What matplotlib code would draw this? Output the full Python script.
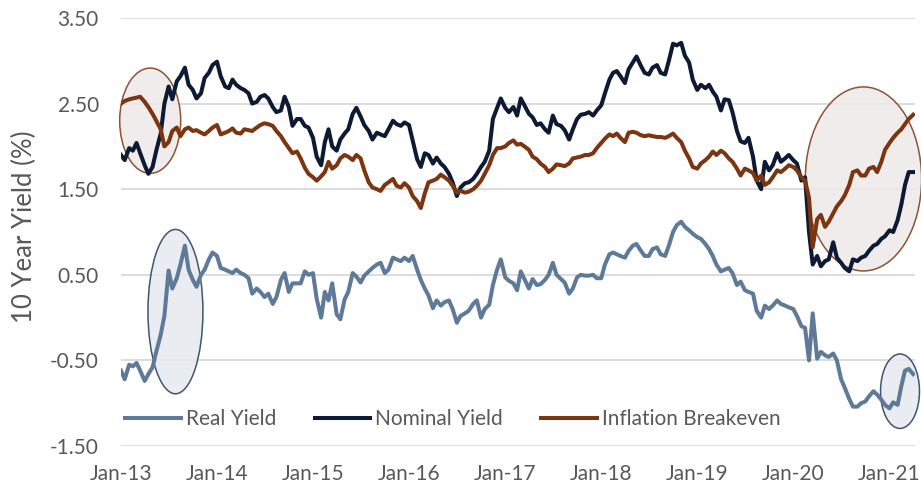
import numpy as np
import pandas as pd
import matplotlib
matplotlib.use("Agg")
import matplotlib.pyplot as plt
import matplotlib.dates as mdates
from matplotlib.patches import Ellipse

plt.rcParams['font.family'] = ['Lato', 'DejaVu Sans']

#  Semi-monthly readings, Jan 2013 .. Apr 2021 (values in %)

dates = pd.date_range('2013-01-01', '2021-04-01', freq='SMS')

nominal_yield = [
    1.90, 1.84, 1.98, 1.95, 2.04, 1.92, 1.78, 1.68, 1.76, 1.95, 2.15, 2.50, 2.70, 2.55, 2.76, 2.82, 2.92, 2.72, 2.66, 2.56, 2.62, 2.80, 2.86, 2.95,
    2.99, 2.82, 2.70, 2.68, 2.78, 2.72, 2.68, 2.66, 2.62, 2.50, 2.52, 2.58, 2.60, 2.56, 2.46, 2.40, 2.42, 2.58, 2.46, 2.24, 2.32, 2.32, 2.24, 2.22,
    2.10, 1.88, 1.78, 2.05, 2.20, 2.00, 1.95, 2.08, 2.15, 2.20, 2.38, 2.45, 2.35, 2.25, 2.18, 2.08, 2.16, 2.14, 2.12, 2.20, 2.30, 2.26, 2.24, 2.28,
    2.25, 2.07, 1.85, 1.76, 1.92, 1.90, 1.80, 1.87, 1.80, 1.76, 1.68, 1.58, 1.42, 1.52, 1.57, 1.58, 1.62, 1.68, 1.76, 1.82, 1.95, 2.32, 2.45, 2.56,
    2.45, 2.40, 2.46, 2.36, 2.56, 2.48, 2.38, 2.34, 2.25, 2.27, 2.20, 2.16, 2.36, 2.26, 2.24, 2.19, 2.08, 2.20, 2.32, 2.37, 2.38, 2.40, 2.36, 2.42,
    2.48, 2.62, 2.78, 2.86, 2.88, 2.82, 2.74, 2.90, 2.98, 3.05, 2.94, 2.86, 2.84, 2.92, 2.95, 2.86, 2.84, 3.00, 3.20, 3.18, 3.21, 3.06, 2.98, 2.78,
    2.66, 2.72, 2.68, 2.72, 2.64, 2.58, 2.42, 2.55, 2.54, 2.40, 2.18, 2.06, 2.04, 2.10, 1.88, 1.60, 1.50, 1.82, 1.72, 1.78, 1.92, 1.82, 1.86, 1.90,
    1.84, 1.80, 1.60, 1.64, 1.00, 0.62, 0.72, 0.60, 0.66, 0.68, 0.88, 0.70, 0.64, 0.58, 0.54, 0.68, 0.66, 0.70, 0.72, 0.78, 0.84, 0.86, 0.92, 0.95,
    1.02, 1.00, 1.14, 1.32, 1.55, 1.70, 1.70,
]

breakeven = [
    2.50, 2.53, 2.55, 2.56, 2.57, 2.58, 2.52, 2.46, 2.38, 2.30, 2.20, 2.00, 2.05, 2.18, 2.22, 2.12, 2.20, 2.22, 2.18, 2.19, 2.16, 2.14, 2.18, 2.22,
    2.25, 2.14, 2.16, 2.18, 2.21, 2.16, 2.15, 2.20, 2.19, 2.18, 2.22, 2.25, 2.27, 2.26, 2.24, 2.18, 2.12, 2.05, 1.98, 1.92, 1.94, 1.86, 1.75, 1.68,
    1.64, 1.60, 1.65, 1.70, 1.82, 1.74, 1.78, 1.86, 1.90, 1.88, 1.84, 1.90, 1.86, 1.72, 1.58, 1.52, 1.50, 1.48, 1.55, 1.58, 1.62, 1.54, 1.52, 1.57,
    1.52, 1.42, 1.36, 1.28, 1.45, 1.58, 1.60, 1.62, 1.67, 1.64, 1.60, 1.54, 1.46, 1.48, 1.46, 1.47, 1.50, 1.54, 1.60, 1.68, 1.78, 1.90, 1.98, 1.98,
    2.00, 2.04, 2.07, 2.02, 2.03, 2.00, 1.96, 1.88, 1.85, 1.80, 1.76, 1.70, 1.74, 1.79, 1.78, 1.77, 1.80, 1.86, 1.87, 1.88, 1.90, 1.90, 1.92, 1.98,
    2.04, 2.09, 2.14, 2.12, 2.15, 2.10, 2.05, 2.16, 2.17, 2.16, 2.13, 2.12, 2.13, 2.12, 2.11, 2.11, 2.10, 2.12, 2.15, 2.10, 2.05, 1.95, 1.86, 1.76,
    1.74, 1.80, 1.84, 1.88, 1.94, 1.90, 1.95, 1.92, 1.86, 1.82, 1.74, 1.66, 1.74, 1.72, 1.69, 1.60, 1.66, 1.55, 1.58, 1.64, 1.72, 1.70, 1.74, 1.78,
    1.76, 1.72, 1.64, 1.60, 1.40, 0.82, 1.15, 1.20, 1.06, 1.12, 1.22, 1.30, 1.36, 1.43, 1.55, 1.70, 1.72, 1.66, 1.66, 1.74, 1.76, 1.70, 1.82, 1.96,
    2.04, 2.10, 2.16, 2.20, 2.26, 2.32, 2.37,
]

real_yield = [
    -0.62, -0.72, -0.55, -0.57, -0.53, -0.62, -0.74, -0.66, -0.58, -0.40, -0.20, 0.02, 0.55, 0.34, 0.46, 0.62, 0.84, 0.56, 0.44, 0.36, 0.50, 0.56, 0.68, 0.76,
    0.72, 0.58, 0.56, 0.54, 0.52, 0.56, 0.52, 0.50, 0.46, 0.28, 0.34, 0.30, 0.24, 0.28, 0.16, 0.24, 0.44, 0.52, 0.30, 0.40, 0.40, 0.40, 0.54, 0.50,
    0.52, 0.22, 0.00, 0.30, 0.20, 0.40, 0.04, -0.02, 0.21, 0.30, 0.52, 0.48, 0.41, 0.49, 0.54, 0.58, 0.62, 0.64, 0.52, 0.56, 0.70, 0.68, 0.66, 0.70,
    0.66, 0.72, 0.56, 0.44, 0.34, 0.26, 0.11, 0.20, 0.14, 0.18, 0.20, 0.10, -0.06, 0.02, 0.05, 0.08, 0.16, 0.20, 0.00, 0.10, 0.15, 0.38, 0.56, 0.68,
    0.47, 0.43, 0.40, 0.32, 0.54, 0.45, 0.34, 0.45, 0.38, 0.39, 0.44, 0.50, 0.64, 0.50, 0.45, 0.41, 0.28, 0.34, 0.47, 0.50, 0.49, 0.49, 0.50, 0.46,
    0.46, 0.62, 0.74, 0.76, 0.74, 0.72, 0.70, 0.78, 0.84, 0.86, 0.78, 0.72, 0.72, 0.80, 0.82, 0.74, 0.72, 0.84, 1.00, 1.08, 1.12, 1.06, 1.02, 0.98,
    0.94, 0.92, 0.86, 0.80, 0.72, 0.62, 0.54, 0.56, 0.58, 0.52, 0.38, 0.42, 0.32, 0.30, 0.28, 0.08, 0.00, 0.14, 0.10, 0.14, 0.20, 0.16, 0.14, 0.12,
    0.10, 0.02, -0.10, -0.12, -0.50, 0.05, -0.48, -0.40, -0.44, -0.46, -0.42, -0.50, -0.72, -0.82, -0.95, -1.04, -1.04, -1.00, -0.98, -0.92, -0.86, -0.90, -0.96, -1.02,
    -1.06, -0.99, -1.02, -0.80, -0.62, -0.60, -0.66,
]

y_ticks = [3.5, 2.5, 1.5, 0.5, -0.5, -1.5]

#  Highlight ellipses: centre date, centre value, width (days), height, edge, fill

highlights = [
    ('2013-04-22', 2.30, 232, 1.23, '#7b3611', '#eee9e8'),
    ('2020-09-24', 1.62, 442, 2.15, '#7b3611', '#eee9e8'),
    ('2013-07-27', 0.07, 209, 1.92, '#1f3a5a', '#e6eaef'),
    ('2021-02-10', -0.86, 148, 0.87, '#1f3a5a', '#e6eaef'),
]

c_real = '#5f7a99'
c_nom = '#0c1b33'
c_be = '#7b3611'
c_text = '#595959'

fig = plt.figure(figsize=(9.21, 4.88), dpi=100)
ax = fig.add_axes([121 / 921, 1 - 446 / 488, 794 / 921, 428 / 488])

for cdate, cy, w, h, ec, fc in highlights:
    e = Ellipse((mdates.date2num(pd.Timestamp(cdate)), cy), w, h,
                facecolor=fc, edgecolor=ec, lw=1.1, alpha=0.85, zorder=1, clip_on=False)
    ax.add_patch(e)

ax.plot(dates, real_yield, color=c_real, lw=2.9, label='Real Yield', zorder=3)
ax.plot(dates, nominal_yield, color=c_nom, lw=2.9, label='Nominal Yield', zorder=3)
ax.plot(dates, breakeven, color=c_be, lw=2.9, label='Inflation Breakeven', zorder=4)

ax.set_ylim(-1.5, 3.5)
ax.set_xlim(pd.Timestamp('2013-01-01'), pd.Timestamp('2021-04-08'))
ax.set_yticks(y_ticks)
ax.yaxis.set_major_formatter(matplotlib.ticker.FormatStrFormatter('%.2f'))
ax.xaxis.set_major_locator(mdates.YearLocator())
ax.xaxis.set_major_formatter(mdates.DateFormatter('%b-%y'))

ax.grid(axis='y', color='#d9d9d9', lw=1.3)
ax.set_axisbelow(True)
for s in ax.spines.values():
    s.set_visible(False)
ax.tick_params(axis='both', length=0, labelsize=15, labelcolor=c_text)
ax.tick_params(axis='y', pad=16)
ax.tick_params(axis='x', pad=13)

fig.text(24 / 921, 1 - 227 / 488, '10 Year Yield (%)', rotation=90, ha='center', va='center',
         fontsize=18.5, color=c_text)

leg = ax.legend(loc='lower left', bbox_to_anchor=(-0.005, 0.02), ncol=3, frameon=False,
                fontsize=15, handlelength=2.65, handletextpad=0.25, columnspacing=1.85,
                borderaxespad=0)
for t in leg.get_texts():
    t.set_color(c_text)

fig.savefig('out.png', dpi=100)
